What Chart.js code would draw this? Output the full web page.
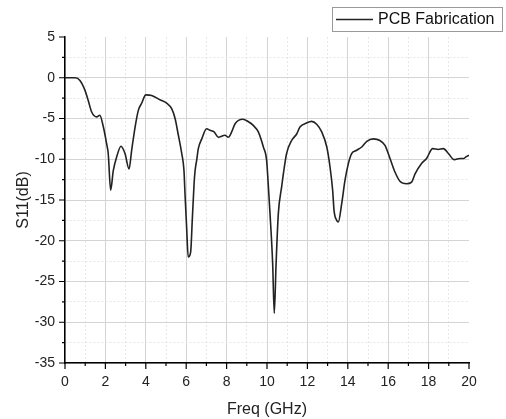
<!DOCTYPE html>
<html>
<head>
<meta charset="utf-8">
<script src="https://cdn.jsdelivr.net/npm/chart.js@4"></script>
<style>
  body { margin: 0; background: #fff; }
  #myChart { display: block; }
</style>
</head>
<body>
<canvas id="myChart" width="506" height="419"></canvas>
<script>
let freq = [0, 0.5, 0.74, 0.99, 1.15, 1.32, 1.57, 1.72, 1.9, 2.06, 2.14, 2.26, 2.39, 2.56, 2.77, 2.97,
  3.17, 3.3, 3.47, 3.63, 3.8, 4.0, 4.29, 4.7, 5.03, 5.28, 5.45, 5.6, 5.78, 5.89, 5.94, 6.02, 6.1,
  6.22, 6.3, 6.39, 6.44, 6.52, 6.6, 6.77, 7.01, 7.18, 7.38, 7.59, 7.92, 8.09, 8.25, 8.42, 8.8,
  9.08, 9.32, 9.57, 9.82, 9.98, 10.05, 10.15, 10.28, 10.36, 10.45, 10.56, 10.73, 10.81, 10.97,
  11.22, 11.47, 11.63, 11.96, 12.21, 12.46, 12.71, 12.96, 13.12, 13.25, 13.32, 13.45, 13.53,
  13.7, 13.86, 14.03, 14.19, 14.44, 14.69, 14.94, 15.26, 15.59, 15.84, 16.09, 16.34, 16.58,
  16.91, 17.16, 17.33, 17.66, 17.9, 18.2, 18.48, 18.73, 18.98, 19.27, 19.55, 19.75, 19.85, 20.0]
let s11 = [0, 0, -0.33, -1.55, -2.8, -4.2, -4.8, -4.6, -6.05, -8.1, -9.3, -13.8, -11.4, -9.7, -8.4, -9.3,
  -11.2, -8.9, -6.05, -4.0, -3.1, -2.1, -2.17, -2.7, -3.1, -3.8, -5.0, -6.9, -9.3, -11.4, -14.2, -18.3, -22.0,
  -21.4, -17.5, -13.0, -11.4, -10.1, -8.7, -7.5, -6.25, -6.45, -6.65, -7.3, -7.05, -7.3, -6.65, -5.65, -5.1,
  -5.4, -5.85, -6.65, -8.5, -10.1, -12.6, -16.7, -22.8, -28.9, -22.8, -16.7, -13.3, -11.8, -9.3,
  -7.7, -6.9, -6.05, -5.55, -5.35, -5.7, -6.65, -8.5, -10.95, -13.8, -16.3, -17.5, -17.7,
  -15.4, -12.6, -10.5, -9.3, -8.9, -8.5, -7.8, -7.5, -7.7, -8.3, -9.9, -11.6, -12.7,
  -13.0, -12.8, -11.8, -10.5, -9.9, -8.7, -8.8, -8.7, -9.3, -10.05, -9.9, -9.9, -9.7, -9.5]
let xTicks = [0, 2, 4, 6, 8, 10, 12, 14, 16, 18, 20]
let yTicks = [5, 0, -5, -10, -15, -20, -25, -30, -35]
let seriesName = 'PCB Fabrication'

let points = freq.map((f, i) => ({ x: f, y: s11[i] }))
let font = '"Liberation Sans", Arial, sans-serif'

function isMajor(v, list) {
  return list.some(t => Math.abs(t - v) < 1e-6)
}

function gridColor(ctx, list, max) {
  if (!ctx.tick) return 'transparent'
  let v = ctx.tick.value
  if (Math.abs(v - max) < 1e-6) return 'transparent'
  return isMajor(v, list) ? '#d4d4d4' : '#e6e6e6'
}

function gridDash(ctx, list) {
  if (!ctx.tick) return []
  return isMajor(ctx.tick.value, list) ? [] : [2, 2]
}

// tick marks (major long, minor short) + legend box
let extras = {
  id: 'extras',
  afterDraw(chart) {
    let c = chart.ctx
    let xs = chart.scales.x, ys = chart.scales.y
    let area = chart.chartArea
    c.save()
    c.strokeStyle = '#000'
    c.lineWidth = 1.2
    c.beginPath()
    xs.ticks.forEach(t => {
      let px = xs.getPixelForValue(t.value)
      let len = isMajor(t.value, xTicks) ? 6 : 3
      c.moveTo(px, area.bottom)
      c.lineTo(px, area.bottom + len)
    })
    ys.ticks.forEach(t => {
      let py = ys.getPixelForValue(t.value)
      let len = isMajor(t.value, yTicks) ? 6 : 3
      c.moveTo(area.left, py)
      c.lineTo(area.left - len, py)
    })
    c.stroke()

    // legend
    c.fillStyle = '#fff'
    c.fillRect(332.5, 7.5, 170, 24)
    c.strokeStyle = '#9a9a9a'
    c.lineWidth = 1
    c.strokeRect(332.5, 7.5, 170, 24)
    c.strokeStyle = '#222'
    c.lineWidth = 1.5
    c.beginPath()
    c.moveTo(336, 19.5)
    c.lineTo(373, 19.5)
    c.stroke()
    c.fillStyle = '#111'
    c.font = '16px ' + font
    c.textBaseline = 'middle'
    c.fillText(seriesName, 378, 20)
    c.restore()
  }
}

let chart = new Chart('myChart', {
  type: 'line',
  data: {
    datasets: [{
      label: seriesName,
      data: points,
      borderColor: '#222',
      borderWidth: 1.6,
      pointRadius: 0,
      fill: false,
      cubicInterpolationMode: 'monotone'
    }]
  },
  options: {
    responsive: false,
    animation: false,
    layout: { padding: { top: 37, right: 37, left: 0, bottom: 0 } },
    plugins: { legend: { display: false }, tooltip: { enabled: false } },
    scales: {
      x: {
        type: 'linear',
        min: 0, max: 20,
        afterFit(scale) { scale.height = 56 },
        ticks: {
          stepSize: 1,
          padding: 11,
          color: '#222',
          font: { family: font, size: 14 },
          maxRotation: 0,
          autoSkip: false,
          callback: v => isMajor(v, xTicks) ? v : ''
        },
        grid: {
          drawTicks: false,
          color: ctx => gridColor(ctx, xTicks, 20),
          lineWidth: 1
        },
        border: { display: true, color: '#000', width: 1.5, dash: ctx => gridDash(ctx, xTicks) },
        title: {
          display: true, text: 'Freq (GHz)', color: '#222',
          font: { family: font, size: 16 }, padding: { top: 4, bottom: 0 }
        }
      },
      y: {
        min: -35, max: 5,
        afterFit(scale) { scale.width = 65 },
        ticks: {
          stepSize: 2.5,
          padding: 10,
          color: '#222',
          font: { family: font, size: 14 },
          autoSkip: false,
          callback: v => isMajor(v, yTicks) ? v : ''
        },
        grid: {
          drawTicks: false,
          color: ctx => gridColor(ctx, yTicks, 5),
          lineWidth: 1
        },
        border: { display: true, color: '#000', width: 1.5, dash: ctx => gridDash(ctx, yTicks) },
        title: {
          display: true, text: 'S11(dB)', color: '#222',
          font: { family: font, size: 16 }, padding: { top: 14, bottom: 0 }
        }
      }
    }
  },
  plugins: [extras]
})
</script>
</body>
</html>
